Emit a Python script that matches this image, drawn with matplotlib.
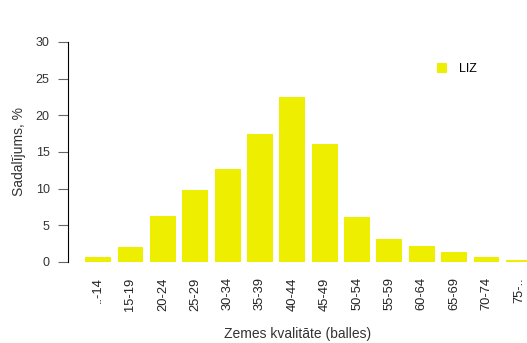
import numpy as np
import matplotlib
matplotlib.use('Agg')
import matplotlib.pyplot as plt

plt.rcParams['font.family'] = ['Liberation Sans', 'DejaVu Sans']

groups = ["..-14", "15-19", "20-24", "25-29", "30-34", "35-39", "40-44",
          "45-49", "50-54", "55-59", "60-64", "65-69", "70-74", "75-.."]
liz = [0.7, 2.0, 6.3, 9.8, 12.7, 17.5, 22.5, 16.1, 6.1, 3.1, 2.2, 1.4, 0.7, 0.3]
yticks = [0, 5, 10, 15, 20, 25, 30]

W, H = 527, 343
fig = plt.figure(figsize=(W / 100, H / 100), dpi=100)
ax = fig.add_axes([68 / W, (H - 262) / H, (W - 68) / W, 220 / H])

x = np.arange(len(groups))
ax.bar(x, liz, width=0.8, color='#EEEE00', label='LIZ')
ax.set_xlim(-0.93, 13.25)
ax.set_ylim(0, 30)

for s in ['top', 'right', 'bottom']:
  ax.spines[s].set_visible(False)
ax.spines['left'].set_linewidth(0.8)

ax.set_yticks(yticks)
ax.set_yticklabels([str(v) for v in yticks], fontsize=9, color='#333333')
ax.tick_params(axis='y', length=7.2, width=0.8, color='#666666', pad=6)
ax.set_xticks(x)
ax.set_xticklabels(groups, rotation=90, fontsize=9.3, color='#222222')
ax.tick_params(axis='x', length=0, pad=11)

ax.set_ylabel('Sadalījums, %', fontsize=10, color='#333333', labelpad=7)
ax.set_xlabel('Zemes kvalitāte (balles)', fontsize=10, color='#333333', labelpad=12)

ax.legend(loc='upper left', bbox_to_anchor=(0.78, 0.955), frameon=False,
          fontsize=9, handlelength=0.8, handleheight=0.8, handletextpad=0.9)

fig.savefig('out.png', dpi=100)
